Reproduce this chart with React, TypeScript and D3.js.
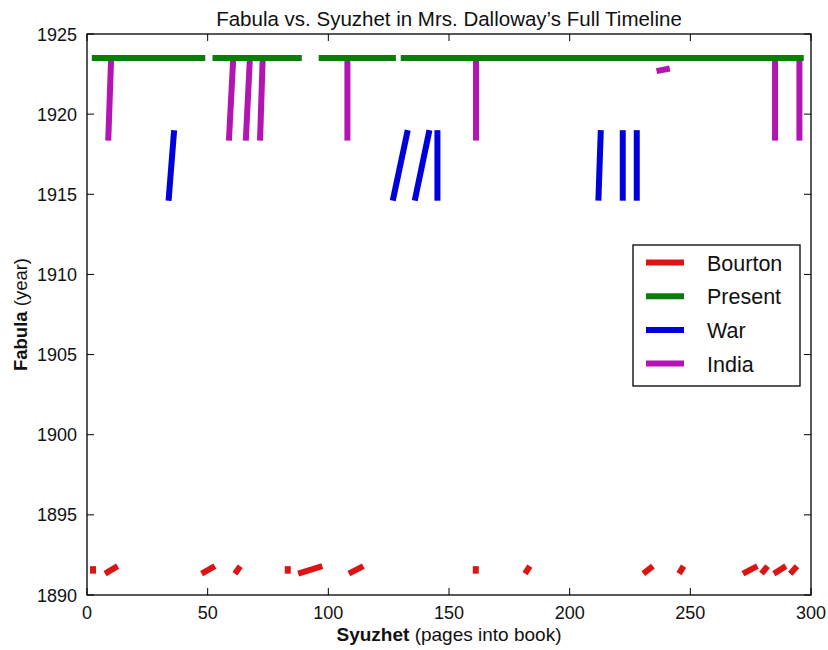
import * as d3 from "d3";

// Fabula vs. Syuzhet (pages -> year)
const PRESENT_YEAR = 1923.5;
const presentSpans = [[2, 49], [52, 89], [96, 128], [130, 297]];

// [page1, year1, page2, year2]
const indiaSegs = [
  [8.8, 1918.35, 10, 1923.5],
  [58.8, 1918.35, 60.6, 1923.5],
  [65.8, 1918.35, 67.5, 1923.5],
  [71.7, 1918.35, 72.8, 1923.5],
  [107.9, 1918.35, 107.9, 1923.5],
  [161.2, 1918.35, 161.2, 1923.5],
  [236, 1922.68, 241.5, 1922.85],
  [285.1, 1918.35, 285.1, 1923.5],
  [295.2, 1918.35, 295.2, 1923.5],
];

const warSegs = [
  [33.8, 1914.6, 36.1, 1919.0],
  [126.7, 1914.6, 132.9, 1919.0],
  [135.8, 1914.6, 141.9, 1919.0],
  [145.2, 1914.6, 145.2, 1919.0],
  [211.9, 1914.6, 212.9, 1919.0],
  [222, 1914.6, 222, 1919.0],
  [227.8, 1914.6, 227.8, 1919.0],
];

const BOURTON_Y1 = 1891.33;
const BOURTON_Y2 = 1891.8;
const bourtonSpans = [
  [2.5, 2.5], [7.5, 12.7], [47.5, 53], [61.3, 63.5], [83.2, 83.2],
  [87.5, 97.5], [108.5, 114.5], [161.1, 161.1], [181.5, 183.5],
  [230.5, 234.5], [245.3, 247.2], [271.8, 277.8], [279.5, 282],
  [284.6, 289.6], [291.4, 294.2],
];

const xTicks = [0, 50, 100, 150, 200, 250, 300];
const yTicks = [1890, 1895, 1900, 1905, 1910, 1915, 1920, 1925];

const legendNames = ["Bourton", "Present", "War", "India"];
const COLORS: Record<string, string> = { Bourton: "#dd1414", Present: "#0b7d0b", War: "#0000dd", India: "#b414b4" };

export default function App() {
  const W = 828, H = 650;
  const left = 87, right = 811, top = 34, bottom = 595;
  const x = d3.scaleLinear().domain([0, 300]).range([left, right]);
  const y = d3.scaleLinear().domain([1890, 1925]).range([bottom, top]);
  const font = "'Liberation Sans', Arial, sans-serif";
  const sw = 6;
  const tickLen = 7;

  const line = d3.line<number[]>().x(d => x(d[0])).y(d => y(d[1]));

  const seg = (s: number[], color: string, key: string) => (
    <path key={key} d={line([[s[0], s[1]], [s[2], s[3]]]) || ""} stroke={color} strokeWidth={sw} fill="none" strokeLinecap="butt" />
  );

  return (
    <svg width={W} height={H} style={{ position: "absolute", left: 0, top: 0, background: "#fff" }} fontFamily={font}>
      <rect x={0} y={0} width={W} height={H} fill="#fff" />
      {/* data */}
      {bourtonSpans.map((s, i) => seg([s[0], BOURTON_Y1, s[1], BOURTON_Y2], COLORS.Bourton, "b" + i))}
      {warSegs.map((s, i) => seg(s, COLORS.War, "w" + i))}
      {indiaSegs.map((s, i) => seg(s, COLORS.India, "i" + i))}
      {presentSpans.map((s, i) => seg([s[0], PRESENT_YEAR, s[1], PRESENT_YEAR], COLORS.Present, "p" + i))}

      {/* frame */}
      <rect x={left} y={top} width={right - left} height={bottom - top} fill="none" stroke="#000" strokeWidth={1.3} />
      {xTicks.map(t => (
        <g key={"xt" + t}>
          <line x1={x(t)} x2={x(t)} y1={bottom} y2={bottom - tickLen} stroke="#000" />
          <line x1={x(t)} x2={x(t)} y1={top} y2={top + tickLen} stroke="#000" />
          <text x={x(t)} y={619} fontSize={18} textAnchor="middle" fill="#111">{t}</text>
        </g>
      ))}
      {yTicks.map(t => (
        <g key={"yt" + t}>
          <line x1={left} x2={left + tickLen} y1={y(t)} y2={y(t)} stroke="#000" />
          <line x1={right} x2={right - tickLen} y1={y(t)} y2={y(t)} stroke="#000" />
          <text x={77} y={y(t) + 6.5} fontSize={18} textAnchor="end" fill="#111">{t}</text>
        </g>
      ))}

      {/* labels */}
      <text x={(left + right) / 2} y={26} fontSize={20.5} textAnchor="middle" fill="#111">
        Fabula vs. Syuzhet in Mrs. Dalloway’s Full Timeline
      </text>
      <text x={(left + right) / 2} y={641} fontSize={19} textAnchor="middle" fill="#111">
        <tspan fontWeight="bold">Syuzhet</tspan> (pages into book)
      </text>
      <text transform={`translate(27,${(top + bottom) / 2}) rotate(-90)`} fontSize={18.5} textAnchor="middle" fill="#111">
        <tspan fontWeight="bold">Fabula</tspan> (year)
      </text>

      {/* legend */}
      <rect x={633} y={245} width={167} height={141} fill="#fff" stroke="#000" strokeWidth={1.3} />
      {legendNames.map((name, i) => (
        <g key={name}>
          <line x1={646} x2={684} y1={262.5 + i * 33.7} y2={262.5 + i * 33.7} stroke={COLORS[name]} strokeWidth={sw} />
          <text x={707} y={262.5 + i * 33.7 + 8} fontSize={21.5} fill="#111">{name}</text>
        </g>
      ))}
    </svg>
  );
}
